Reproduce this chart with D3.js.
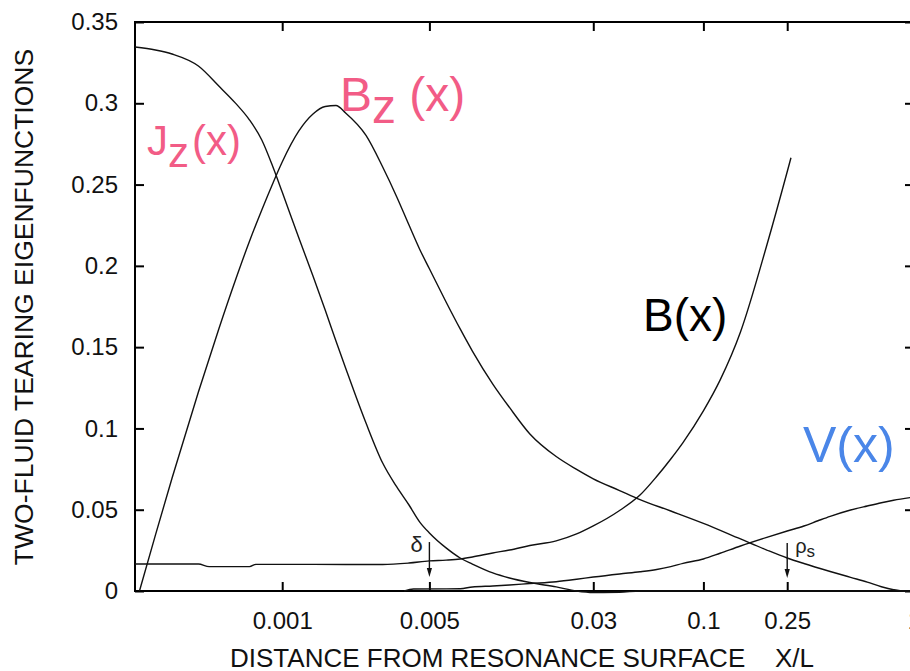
<!DOCTYPE html>
<html>
<head>
<meta charset="utf-8">
<script src="https://cdn.jsdelivr.net/npm/d3@7"></script>
<style>
  body { margin: 0; background: #fff; }
  svg { display: block; }
  text { font-family: "Liberation Sans", Arial, Helvetica, sans-serif; }
</style>
</head>
<body>
<svg id="chart" width="910" height="671"></svg>
<script>
// Axis ticks
const xTicks = [0.001, 0.005, 0.03, 0.1, 0.25, 1];
const xTickLabels = ["0.001", "0.005", "0.03", "0.1", "0.25", "1"];
const yTicks = [0, 0.05, 0.1, 0.15, 0.2, 0.25, 0.3, 0.35];
const yTickLabels = ["0", "0.05", "0.1", "0.15", "0.2", "0.25", "0.3", "0.35"];

// J_z(x): current density eigenfunction
const jzX = [0.0002, 0.00025, 0.0003, 0.0004, 0.0005, 0.0006, 0.0007, 0.0008, 0.0009, 0.001,
             0.0012, 0.0014, 0.0016, 0.0018, 0.002, 0.0025, 0.003, 0.0035, 0.004, 0.0045,
             0.005, 0.006, 0.007, 0.008, 0.01, 0.012, 0.015, 0.02, 0.025, 0.03,
             0.04, 0.05, 0.1, 0.25, 1];
const jzY = [0.3346, 0.3328, 0.3303, 0.3229, 0.3106, 0.3001, 0.2897, 0.2774, 0.2614, 0.2454,
             0.2171, 0.1938, 0.1728, 0.1538, 0.1372, 0.1033, 0.0787, 0.0640, 0.0529, 0.0424,
             0.0357, 0.0265, 0.0203, 0.0166, 0.0111, 0.0080, 0.0052, 0.0025, 0, -0.0009,
             -0.0008, 0, 0, 0, 0];

// B_z(x)
const bzX = [0.00021, 0.00025, 0.0003, 0.0004, 0.0005, 0.0006, 0.0007, 0.0008, 0.0009, 0.001,
             0.0012, 0.0014, 0.0016, 0.0018, 0.002, 0.0025, 0.003, 0.0035, 0.004, 0.0045,
             0.005, 0.006, 0.007, 0.008, 0.01, 0.012, 0.015, 0.02, 0.025, 0.03,
             0.04, 0.05, 0.07, 0.1, 0.15, 0.2, 0.25, 0.3, 0.4, 0.5,
             0.6, 0.7, 0.8, 0.9, 1];
const bzY = [0, 0.0344, 0.0695, 0.1224, 0.1612, 0.1913, 0.2153, 0.2344, 0.2504, 0.2639,
             0.2830, 0.2934, 0.2980, 0.2986, 0.2940, 0.2802, 0.2608, 0.2424, 0.2251, 0.2101,
             0.1982, 0.1778, 0.1612, 0.1476, 0.1273, 0.1129, 0.0966, 0.0827, 0.0748, 0.0690,
             0.0618, 0.0562, 0.0492, 0.0416, 0.0320, 0.0252, 0.0203, 0.0169, 0.0120, 0.0084,
             0.0055, 0.0026, 0.0008, 0, 0];

// B(x): perturbed flux
const bX = [0.0002, 0.0004, 0.00045, 0.0007, 0.00075, 0.001, 0.002, 0.003, 0.004, 0.005,
            0.006, 0.007, 0.008, 0.01, 0.012, 0.015, 0.02, 0.025, 0.03, 0.04,
            0.05, 0.06, 0.07, 0.08, 0.1, 0.12, 0.15, 0.2, 0.25, 0.2605];
const bY = [0.0166, 0.0166, 0.0150, 0.0150, 0.0164, 0.0164, 0.0163, 0.0163, 0.0172, 0.0185,
            0.0190, 0.0197, 0.0209, 0.0234, 0.0252, 0.0280, 0.0308, 0.0351, 0.0400, 0.0495,
            0.0590, 0.0704, 0.0812, 0.0913, 0.1108, 0.1297, 0.1593, 0.2127, 0.2579, 0.2665];

// V(x): flow eigenfunction
const vX = [0.0038, 0.0042, 0.007, 0.008, 0.01, 0.012, 0.015, 0.02, 0.025, 0.03,
            0.04, 0.05, 0.06, 0.07, 0.08, 0.1, 0.12, 0.15, 0.2, 0.25,
            0.3, 0.35, 0.4, 0.5, 0.6, 0.7, 0.8, 1];
const vY = [0, 0.0012, 0.0014, 0.0025, 0.0031, 0.0037, 0.0046, 0.0057, 0.0072, 0.0086,
            0.0105, 0.0118, 0.0132, 0.0150, 0.0170, 0.0197, 0.0232, 0.0277, 0.0330, 0.0369,
            0.0400, 0.0432, 0.0459, 0.0498, 0.0523, 0.0543, 0.0558, 0.0578];

// Layer-width markers: position on the axis, arrow top and arrow tip
const markerNames = ["δ", "ρ"];
const markerX = [0.005, 0.25];
const markerTop = [0.0301, 0.0295];
const markerTip = [0.0086, 0.0080];

const pink = "#f25c86";
const blue = "#4a86e8";

const svg = d3.select("#chart");
const plotLeft = 135, plotRight = 914, plotTop = 22, plotBottom = 591;

const x = d3.scaleLog().domain([0.0002, 1]).range([plotLeft, plotRight]);
const y = d3.scaleLinear().domain([0, 0.35]).range([plotBottom, plotTop]);

// Frame
svg.append("rect")
  .attr("x", plotLeft).attr("y", plotTop)
  .attr("width", plotRight - plotLeft).attr("height", plotBottom - plotTop)
  .attr("fill", "none").attr("stroke", "#000").attr("stroke-width", 2);

function styleAxis(g, fontSize) {
  g.select(".domain").remove();
  g.selectAll(".tick line").attr("stroke", "#000").attr("stroke-width", 2);
  g.selectAll(".tick text").attr("fill", "#111").style("font-size", fontSize + "px")
    .style("font-family", '"Liberation Sans", Arial, Helvetica, sans-serif');
}

const xFmt = d => xTickLabels[xTicks.indexOf(d)];
const yFmt = d => yTickLabels[yTicks.indexOf(d)];

svg.append("g").attr("transform", `translate(0,${plotBottom})`)
  .call(d3.axisBottom(x).tickValues(xTicks).tickFormat(xFmt).tickSizeInner(-9).tickSizeOuter(0).tickPadding(21))
  .call(g => styleAxis(g, 24));

svg.append("g").attr("transform", `translate(0,${plotTop})`)
  .call(d3.axisTop(x).tickValues(xTicks).tickFormat("").tickSizeInner(-9).tickSizeOuter(0))
  .call(g => styleAxis(g, 24));

svg.append("g").attr("transform", `translate(${plotLeft},0)`)
  .call(d3.axisLeft(y).tickValues(yTicks).tickFormat(yFmt).tickSizeInner(-9).tickSizeOuter(0).tickPadding(17))
  .call(g => styleAxis(g, 24));

svg.append("g").attr("transform", `translate(${plotRight},0)`)
  .call(d3.axisRight(y).tickValues(yTicks).tickFormat("").tickSizeInner(-9).tickSizeOuter(0))
  .call(g => styleAxis(g, 24));

// Curves
const line = d3.line()
  .x(d => x(d[0]))
  .y(d => y(d[1]))
  .curve(d3.curveMonotoneX);

const series = [
  d3.zip(jzX, jzY),
  d3.zip(bzX, bzY),
  d3.zip(bX, bY),
  d3.zip(vX, vY)
];

svg.append("g")
  .selectAll("path")
  .data(series)
  .join("path")
  .attr("d", line)
  .attr("fill", "none")
  .attr("stroke", "#111")
  .attr("stroke-width", 1.4)
  .attr("stroke-linejoin", "round");

// Marker arrows
const markers = svg.append("g");
markerX.forEach((mx, i) => {
  const px = x(mx);
  markers.append("line")
    .attr("x1", px).attr("x2", px)
    .attr("y1", y(markerTop[i])).attr("y2", y(markerTip[i]) - 6)
    .attr("stroke", "#111").attr("stroke-width", 1.4);
  markers.append("path")
    .attr("d", `M${px - 2.6},${y(markerTip[i]) - 9} L${px},${y(markerTip[i])} L${px + 2.6},${y(markerTip[i]) - 9} Z`)
    .attr("fill", "#111");
});

svg.append("text")
  .attr("x", x(markerX[0]) - 19).attr("y", y(markerTop[0]) + 10)
  .style("font-size", "22px").attr("fill", "#222")
  .text(markerNames[0]);

const rho = svg.append("text")
  .attr("x", x(markerX[1]) + 8).attr("y", y(markerTop[1]) + 10)
  .style("font-size", "20px").attr("fill", "#222");
rho.append("tspan").text(markerNames[1]);
rho.append("tspan").attr("dy", 4).style("font-size", "17px").text("s");

// Axis titles
svg.append("text")
  .attr("x", 230).attr("y", 667)
  .style("font-size", "26px").attr("fill", "#111")
  .text("DISTANCE FROM RESONANCE SURFACE");
svg.append("text")
  .attr("x", 775).attr("y", 667)
  .style("font-size", "26px").attr("fill", "#111")
  .text("X/L");

svg.append("text")
  .attr("transform", "translate(33,307) rotate(-90)")
  .attr("text-anchor", "middle")
  .style("font-size", "26.5px").attr("fill", "#111")
  .text("TWO-FLUID TEARING EIGENFUNCTIONS");

// Curve names
const jz = svg.append("text").attr("x", 147).attr("y", 155)
  .style("font-size", "42px").attr("fill", pink);
jz.append("tspan").text("J");
jz.append("tspan").attr("dy", 12).text("z");
jz.append("tspan").attr("dy", -12).attr("dx", 3).text("(x)");

const bz = svg.append("text").attr("x", 340).attr("y", 111)
  .style("font-size", "48px").attr("fill", pink);
bz.append("tspan").text("B");
bz.append("tspan").attr("dy", 12).text("z");
bz.append("tspan").attr("dy", -12).text(" (x)");

svg.append("text").attr("x", 643).attr("y", 331)
  .style("font-size", "46px").attr("fill", "#000")
  .text("B(x)");

svg.append("text").attr("x", 803).attr("y", 462)
  .style("font-size", "50px").attr("fill", blue)
  .text("V(x)");
</script>
</body>
</html>
